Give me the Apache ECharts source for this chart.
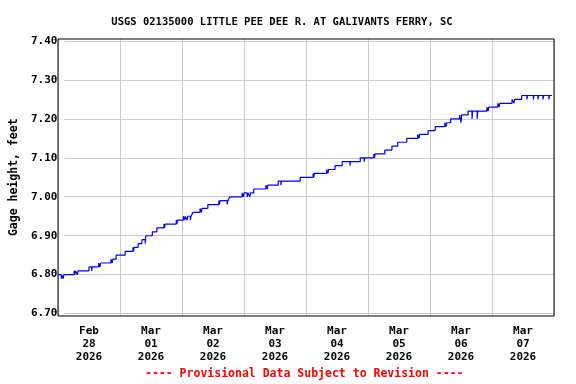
<!DOCTYPE html>
<html>
<head>
<meta charset="utf-8">
<script src="https://cdn.jsdelivr.net/npm/echarts@6/dist/echarts.min.js"></script>
<style>
html,body{margin:0;padding:0;background:#fff;}
#c{width:576px;height:384px;}
</style>
</head>
<body>
<div id="c"></div>
<script>
// ---- data ----
const titleText = 'USGS 02135000 LITTLE PEE DEE R. AT GALIVANTS FERRY, SC';
const yAxisName = 'Gage height, feet';
const footerText = '---- Provisional Data Subject to Revision ----';
const dayLabels = ['Feb\n28\n2026','Mar\n01\n2026','Mar\n02\n2026','Mar\n03\n2026','Mar\n04\n2026','Mar\n05\n2026','Mar\n06\n2026','Mar\n07\n2026'];
const yTicks = [6.70, 6.80, 6.90, 7.00, 7.10, 7.20, 7.30, 7.40];

// times at which the gage level steps to a new value
const stepTimes = [
 '2026-02-28 00:00','2026-02-28 06:15','2026-02-28 12:00','2026-02-28 15:45','2026-02-28 20:30','2026-02-28 22:30',
 '2026-03-01 02:00','2026-03-01 05:00','2026-03-01 07:00','2026-03-01 08:30','2026-03-01 10:00','2026-03-01 12:30',
 '2026-03-01 14:15','2026-03-01 17:00','2026-03-01 21:45','2026-03-02 00:30','2026-03-02 04:15','2026-03-02 07:00',
 '2026-03-02 10:00','2026-03-02 14:15','2026-03-02 18:30','2026-03-02 23:15','2026-03-03 03:45','2026-03-03 08:30',
 '2026-03-03 13:15','2026-03-03 21:45','2026-03-04 02:45','2026-03-04 08:00','2026-03-04 11:15','2026-03-04 14:00',
 '2026-03-04 21:00','2026-03-05 02:15','2026-03-05 06:30','2026-03-05 09:15','2026-03-05 11:30','2026-03-05 15:00',
 '2026-03-05 19:15','2026-03-05 23:15','2026-03-06 02:00','2026-03-06 05:45','2026-03-06 08:00','2026-03-06 11:30',
 '2026-03-06 14:45','2026-03-06 22:00','2026-03-07 02:15','2026-03-07 07:45','2026-03-07 11:30'
];
const stepValues = [
 6.80,6.81,6.82,6.83,6.84,6.85,
 6.86,6.87,6.88,6.89,6.90,6.91,
 6.92,6.93,6.94,6.95,6.96,6.97,
 6.98,6.99,7.00,7.01,7.02,7.03,
 7.04,7.05,7.06,7.07,7.08,7.09,
 7.10,7.11,7.12,7.13,7.14,7.15,
 7.16,7.17,7.18,7.19,7.20,7.21,
 7.22,7.23,7.24,7.25,7.26
];
const lastTime = '2026-03-07 23:15';

// brief one-reading dips below the running level
const dipTimes = [
 '2026-02-28 01:15','2026-02-28 02:00','2026-02-28 06:30','2026-02-28 07:30','2026-02-28 13:00','2026-02-28 16:15',
 '2026-02-28 21:00','2026-03-01 05:15','2026-03-01 09:45','2026-03-01 17:15','2026-03-01 22:00','2026-03-02 01:00',
 '2026-03-02 02:00','2026-03-02 03:15','2026-03-02 07:30','2026-03-02 14:30','2026-03-02 17:30','2026-03-02 23:45',
 '2026-03-03 01:15','2026-03-03 02:15','2026-03-03 09:00','2026-03-03 14:15','2026-03-04 03:00','2026-03-04 08:30',
 '2026-03-04 17:00','2026-03-04 22:30','2026-03-05 02:30','2026-03-05 19:45','2026-03-06 06:15','2026-03-06 12:00',
 '2026-03-06 16:15','2026-03-06 18:15','2026-03-06 22:30','2026-03-07 02:45','2026-03-07 08:30','2026-03-07 13:30',
 '2026-03-07 16:00','2026-03-07 17:45','2026-03-07 19:45','2026-03-07 22:00'
];
const dipValues = [
 6.79,6.79,6.80,6.80,6.81,6.82,
 6.83,6.86,6.88,6.92,6.93,6.94,
 6.94,6.94,6.96,6.98,6.98,7.00,
 7.00,7.00,7.02,7.03,7.05,7.06,
 7.08,7.09,7.10,7.15,7.18,7.19,
 7.20,7.20,7.22,7.23,7.24,7.25,
 7.25,7.25,7.25,7.25
];

// ---- build series from the arrays ----
function hoursOf(s){
  const m = s.match(/(\d+)-(\d+)-(\d+) (\d+):(\d+)/);
  const mon = +m[2], day = +m[3];
  const d = mon === 2 ? day - 28 : day; // days since Feb 28
  return d*24 + (+m[4]) + (+m[5])/60;
}
const stepH = stepTimes.map(hoursOf);
function levelAt(h){
  let v = stepValues[0];
  for (let i=0;i<stepH.length;i++){ if (stepH[i] <= h + 1e-9) v = stepValues[i]; }
  return v;
}
let pts = stepH.map((h,i)=>[h, stepValues[i]]);
dipTimes.forEach((t,i)=>{
  const h = hoursOf(t);
  pts.push([h, dipValues[i]]);
  pts.push([h+0.25, levelAt(h+0.25)]);
});
pts.sort((a,b)=>a[0]-b[0]);
const endH = hoursOf(lastTime);
pts.push([endH, levelAt(endH)]);

const FONT = '"DejaVu Sans Mono", monospace';
const chart = echarts.init(document.getElementById('c'), null, {renderer:'canvas'});
chart.setOption({
  animation:false,
  backgroundColor:'#fff',
  title:{
    text:titleText, left:277, top:12, textAlign:'center',
    textStyle:{fontFamily:FONT, fontWeight:'bold', fontSize:10.5, color:'#000'}
  },
  graphic:[{
    type:'text', left:145, top:368, z:10,
    style:{text:footerText, x:0, fill:'#ff0000', font:'bold 11.5px "DejaVu Sans Mono", monospace'}
  }],
  grid:[
    {left:58, right:22, top:39, bottom:68, show:true, borderColor:'#000', borderWidth:1, backgroundColor:'transparent', z:3},
    {left:58, right:22, top:41, bottom:70.5, show:false}
  ],
  xAxis:[
    {type:'value', gridIndex:0, min:0, max:192, interval:24,
     axisLine:{show:false}, axisTick:{show:false}, axisLabel:{show:false},
     splitLine:{show:true, lineStyle:{color:'#cccccc', width:1}}},
    {type:'category', gridIndex:0, data:dayLabels, boundaryGap:true, position:'bottom',
     axisLine:{show:false}, axisTick:{show:false}, splitLine:{show:false},
     axisLabel:{margin:9, color:'#000', fontFamily:FONT, fontWeight:'bold', fontSize:11, lineHeight:13, interval:0}},
    {type:'value', gridIndex:1, min:0, max:192, show:false}
  ],
  yAxis:[
    {type:'value', gridIndex:0, min:6.694, max:7.405, show:false, splitLine:{show:false}},
    {type:'value', gridIndex:1, min:yTicks[0], max:yTicks[yTicks.length-1], interval:0.1,
     axisLine:{show:false}, axisTick:{show:false},
     splitLine:{show:true, lineStyle:{color:'#cccccc', width:1}},
     axisLabel:{margin:7, color:'#000', fontFamily:FONT, fontWeight:'bold', fontSize:11,
       padding:[4,0,0,0], formatter:v=>v.toFixed(2)},
     name:yAxisName, nameLocation:'middle', nameGap:40, nameRotate:90,
     nameTextStyle:{color:'#000', fontFamily:FONT, fontWeight:'bold', fontSize:11.5}}
  ],
  series:[{
    type:'line', xAxisIndex:0, yAxisIndex:0, data:pts, step:'end',
    showSymbol:false, symbol:'none', z:5,
    lineStyle:{color:'#0000ff', width:1.2}
  }]
});
</script>
</body>
</html>
